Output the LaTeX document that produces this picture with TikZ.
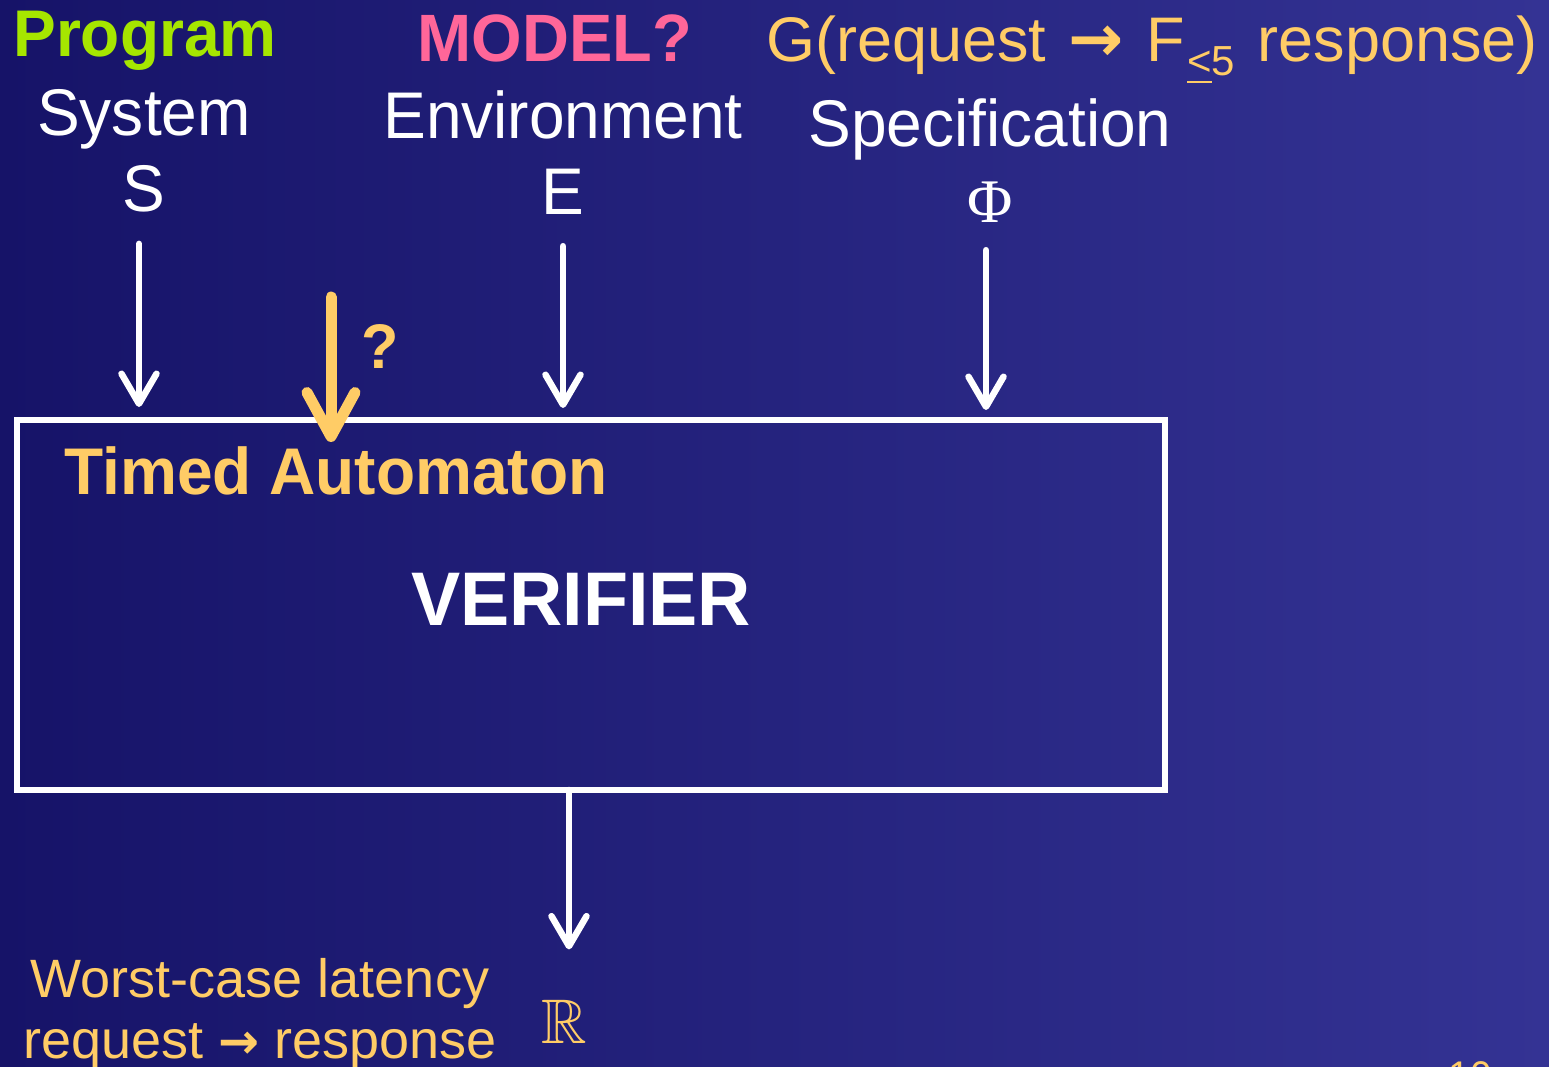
\documentclass[tikz,border=0pt]{standalone}
\usepackage{fontspec}
\setmainfont{Liberation Sans}[FakeStretch=0.97]
\newfontfamily\widesans{Liberation Sans}
\newfontfamily\phifont{Liberation Serif}
\newfontfamily\arrowfont{DejaVu Sans}
\usepackage{amssymb}
\usetikzlibrary{arrows.meta}

\definecolor{bgleft}{RGB}{22,19,104}
\definecolor{bgright}{RGB}{52,51,148}
\definecolor{slideorange}{RGB}{255,204,102}
\definecolor{slidegreen}{RGB}{166,230,0}
\definecolor{slidepink}{RGB}{255,102,153}

\newcommand\fsz[1]{\fontsize{#1}{#1}\selectfont}
% heavy implication arrow used inside the orange texts
\newcommand\implies[1]{{\arrowfont\bfseries\fsz{#1}→}}

\tikzset{
  lbl/.style={inner sep=0pt, anchor=base, text=white},
  warrow/.style={draw=white, line width=6.5pt, line cap=round,
    -{Straight Barb[length=30pt,width=35pt,round]}},
  oarrow/.style={draw=slideorange, line width=11pt, line cap=round,
    -{Straight Barb[length=44pt,width=48pt,round]}},
}

\begin{document}
\begin{tikzpicture}[x=1pt,y=-1pt]
\useasboundingbox (0,0) rectangle (1549,1067);
\shade[left color=bgleft,right color=bgright] (0,0) rectangle (1549,1067);
\clip (0,0) rectangle (1549,1067);

% headings
\node[lbl, text=slidegreen, font=\bfseries\fsz{66}] (prog) at (145,57) {Program};
\node[lbl, text=slidepink, font=\bfseries\fsz{67}] (model) at (555,62) {MODEL?};
\node[lbl, text=slideorange, font=\widesans\fsz{63}] (formula) at (1152,62)
  {G(request\hspace{5pt} \implies{66}\hspace{5pt} F\hspace{2pt}\raisebox{-14pt}{\fsz{42}\underline{<}5}\hspace{5pt} response)};

% inputs
\node[lbl, font=\fsz{66}] (sys) at (144,136) {System};
\node[lbl, font=\fsz{66}] (S) at (144,212) {S};
\node[lbl, font=\fsz{66}] (env) at (563,139) {Environment};
\node[lbl, font=\fsz{66}] (E) at (563,215) {E};
\node[lbl, font=\fsz{66}] (spec) at (990,147) {Specification};
\node[lbl, font=\phifont\fsz{62}] (Phi) at (990,223) {Φ};

% verifier box
\node[draw=white, line width=6pt, inner sep=0pt, outer sep=0pt,
      minimum width=1148pt, minimum height=370pt, anchor=north west] (box) at (17,420) {};
\node[lbl, text=slideorange, font=\bfseries\fsz{66}] (ta) at (336,494) {Timed Automaton};
\node[lbl, font=\bfseries\fsz{76}] (ver) at (581,625) {VERIFIER};

% output
\node[lbl, text=slideorange, font=\widesans\fsz{54}] (wc) at (260,997) {Worst-case latency};
\node[lbl, text=slideorange, font=\widesans\fsz{54}] (rr) at (260,1058) {request \implies{49} response};
\node[lbl, text=slideorange, font=\fsz{63}] (R) at (564,1043) {$\mathbb{R}$};
\node[lbl, text=slideorange, font=\fsz{40}] (pg) at (1470,1089) {10};

% connectors
\draw[warrow] ([shift={(-5,31)}]S.south) -- ([shift={(-5,-13)}]S.south |- box.north);
\draw[warrow] ([shift={(0,31)}]E.south) -- ([shift={(0,-12)}]E.south |- box.north);
\draw[warrow] ([shift={(-4,27)}]Phi.south) -- ([shift={(-4,-10)}]Phi.south |- box.north);
\draw[warrow] ([shift={(-22,0)}]box.south) -- ([shift={(5,-50)}]R.north);

\coordinate (qstart) at (331,297);
\draw[oarrow] (qstart) -- ([shift={(0,22)}]qstart |- box.north);
\node[lbl, text=slideorange, font=\bfseries\fsz{63}] (q) at (380,368) {?};
\end{tikzpicture}
\end{document}
